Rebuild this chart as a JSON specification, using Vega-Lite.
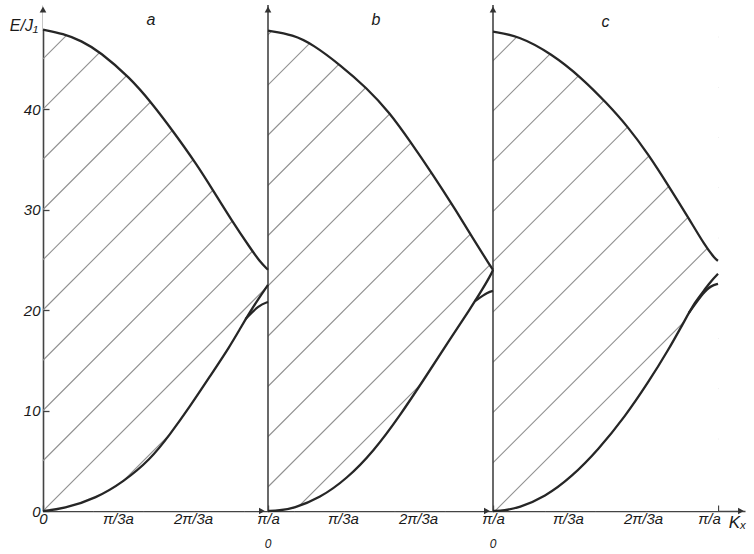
{
 "$schema": "https://vega.github.io/schema/vega-lite/v6.json",
 "width": 702,
 "height": 506,
 "autosize": {"type": "none"},
 "padding": {"left": 43, "top": 5, "right": 9, "bottom": 43},
 "background": "white",
 "config": {
  "view": {"stroke": null},
  "axis": {"domainColor": "#444", "domainWidth": 1.6, "tickColor": "#444", "tickWidth": 1.3, "labelFont": "Liberation Sans", "labelFontStyle": "italic", "labelFontSize": 15, "labelColor": "#1a1a1a", "grid": false, "zindex": 1}
 },
 "datasets": {
  "curves": [
   {"panel": "a", "branch": "up", "k": 0, "e": 47.9},
   {"panel": "a", "branch": "up", "k": 0.09, "e": 47.5},
   {"panel": "a", "branch": "up", "k": 0.17, "e": 46.8},
   {"panel": "a", "branch": "up", "k": 0.253, "e": 45.7},
   {"panel": "a", "branch": "up", "k": 0.387, "e": 43.1},
   {"panel": "a", "branch": "up", "k": 0.483, "e": 40.6},
   {"panel": "a", "branch": "up", "k": 0.578, "e": 37.8},
   {"panel": "a", "branch": "up", "k": 0.683, "e": 34.5},
   {"panel": "a", "branch": "up", "k": 0.756, "e": 31.9},
   {"panel": "a", "branch": "up", "k": 0.839, "e": 28.9},
   {"panel": "a", "branch": "up", "k": 0.92, "e": 26.2},
   {"panel": "a", "branch": "up", "k": 0.964, "e": 24.8},
   {"panel": "a", "branch": "up", "k": 1.0, "e": 24.0},
   {"panel": "a", "branch": "lo", "k": 0, "e": 0},
   {"panel": "a", "branch": "lo", "k": 0.09, "e": 0.2},
   {"panel": "a", "branch": "lo", "k": 0.239, "e": 1.3},
   {"panel": "a", "branch": "lo", "k": 0.357, "e": 2.9},
   {"panel": "a", "branch": "lo", "k": 0.476, "e": 5.1},
   {"panel": "a", "branch": "lo", "k": 0.564, "e": 7.6},
   {"panel": "a", "branch": "lo", "k": 0.653, "e": 10.4},
   {"panel": "a", "branch": "lo", "k": 0.742, "e": 13.4},
   {"panel": "a", "branch": "lo", "k": 0.831, "e": 16.4},
   {"panel": "a", "branch": "lo", "k": 0.88, "e": 18.3},
   {"panel": "a", "branch": "lo", "k": 0.92, "e": 19.8},
   {"panel": "a", "branch": "lo", "k": 0.96, "e": 21.2},
   {"panel": "a", "branch": "lo", "k": 1.0, "e": 22.5},
   {"panel": "a", "branch": "lo2", "k": 0.9, "e": 19.1},
   {"panel": "a", "branch": "lo2", "k": 0.96, "e": 20.5},
   {"panel": "a", "branch": "lo2", "k": 1.0, "e": 20.8},
   {"panel": "b", "branch": "up", "k": 1.0, "e": 47.8},
   {"panel": "b", "branch": "up", "k": 1.112, "e": 47.4},
   {"panel": "b", "branch": "up", "k": 1.201, "e": 46.4},
   {"panel": "b", "branch": "up", "k": 1.32, "e": 44.4},
   {"panel": "b", "branch": "up", "k": 1.439, "e": 42.1},
   {"panel": "b", "branch": "up", "k": 1.542, "e": 39.6},
   {"panel": "b", "branch": "up", "k": 1.631, "e": 36.8},
   {"panel": "b", "branch": "up", "k": 1.735, "e": 33.4},
   {"panel": "b", "branch": "up", "k": 1.824, "e": 30.3},
   {"panel": "b", "branch": "up", "k": 1.912, "e": 27.1},
   {"panel": "b", "branch": "up", "k": 1.987, "e": 24.4},
   {"panel": "b", "branch": "up", "k": 2.0, "e": 24.0},
   {"panel": "b", "branch": "lo", "k": 1.0, "e": 0},
   {"panel": "b", "branch": "lo", "k": 1.05, "e": 0.05},
   {"panel": "b", "branch": "lo", "k": 1.112, "e": 0.25},
   {"panel": "b", "branch": "lo", "k": 1.231, "e": 1.3},
   {"panel": "b", "branch": "lo", "k": 1.35, "e": 3.2},
   {"panel": "b", "branch": "lo", "k": 1.468, "e": 5.9},
   {"panel": "b", "branch": "lo", "k": 1.587, "e": 9.5},
   {"panel": "b", "branch": "lo", "k": 1.705, "e": 13.5},
   {"panel": "b", "branch": "lo", "k": 1.809, "e": 17.1},
   {"panel": "b", "branch": "lo", "k": 1.898, "e": 20.1},
   {"panel": "b", "branch": "lo", "k": 1.957, "e": 22.2},
   {"panel": "b", "branch": "lo", "k": 1.995, "e": 23.7},
   {"panel": "b", "branch": "lo", "k": 2.0, "e": 24.0},
   {"panel": "b", "branch": "lo2", "k": 1.92, "e": 20.9},
   {"panel": "b", "branch": "lo2", "k": 1.979, "e": 21.8},
   {"panel": "b", "branch": "lo2", "k": 2.0, "e": 21.9},
   {"panel": "c", "branch": "up", "k": 2.0, "e": 47.7},
   {"panel": "c", "branch": "up", "k": 2.112, "e": 47.3},
   {"panel": "c", "branch": "up", "k": 2.261, "e": 45.5},
   {"panel": "c", "branch": "up", "k": 2.394, "e": 43.1},
   {"panel": "c", "branch": "up", "k": 2.505, "e": 40.6},
   {"panel": "c", "branch": "up", "k": 2.601, "e": 38.2},
   {"panel": "c", "branch": "up", "k": 2.69, "e": 35.5},
   {"panel": "c", "branch": "up", "k": 2.779, "e": 32.4},
   {"panel": "c", "branch": "up", "k": 2.868, "e": 29.2},
   {"panel": "c", "branch": "up", "k": 2.942, "e": 26.4},
   {"panel": "c", "branch": "up", "k": 2.987, "e": 25.1},
   {"panel": "c", "branch": "up", "k": 3.0, "e": 24.9},
   {"panel": "c", "branch": "lo", "k": 2.0, "e": 0},
   {"panel": "c", "branch": "lo", "k": 2.05, "e": 0.06},
   {"panel": "c", "branch": "lo", "k": 2.112, "e": 0.3},
   {"panel": "c", "branch": "lo", "k": 2.231, "e": 1.4},
   {"panel": "c", "branch": "lo", "k": 2.35, "e": 3.4},
   {"panel": "c", "branch": "lo", "k": 2.468, "e": 6.1},
   {"panel": "c", "branch": "lo", "k": 2.587, "e": 9.4},
   {"panel": "c", "branch": "lo", "k": 2.69, "e": 12.8},
   {"panel": "c", "branch": "lo", "k": 2.779, "e": 16.0},
   {"panel": "c", "branch": "lo", "k": 2.853, "e": 19.0},
   {"panel": "c", "branch": "lo", "k": 2.898, "e": 20.8},
   {"panel": "c", "branch": "lo", "k": 2.94, "e": 22.0},
   {"panel": "c", "branch": "lo", "k": 2.97, "e": 22.9},
   {"panel": "c", "branch": "lo", "k": 3.0, "e": 23.6},
   {"panel": "c", "branch": "lo2", "k": 2.87, "e": 19.7},
   {"panel": "c", "branch": "lo2", "k": 2.94, "e": 21.9},
   {"panel": "c", "branch": "lo2", "k": 2.97, "e": 22.4},
   {"panel": "c", "branch": "lo2", "k": 3.0, "e": 22.6}
  ],
  "hatch": [
   {"k1": 0, "e1": 45, "k2": 0.2232, "e2": 50},
   {"k1": 0, "e1": 40, "k2": 0.4464, "e2": 50},
   {"k1": 0, "e1": 35, "k2": 0.6696, "e2": 50},
   {"k1": 0, "e1": 30, "k2": 0.8929, "e2": 50},
   {"k1": 0, "e1": 25, "k2": 1.1161, "e2": 50},
   {"k1": 0, "e1": 20, "k2": 1.3393, "e2": 50},
   {"k1": 0, "e1": 15, "k2": 1.5625, "e2": 50},
   {"k1": 0, "e1": 10, "k2": 1.7857, "e2": 50},
   {"k1": 0, "e1": 5, "k2": 2.0089, "e2": 50},
   {"k1": 0, "e1": 0, "k2": 2.2321, "e2": 50},
   {"k1": 0.2232, "e1": 0, "k2": 2.4554, "e2": 50},
   {"k1": 0.4464, "e1": 0, "k2": 2.6786, "e2": 50},
   {"k1": 0.6696, "e1": 0, "k2": 2.9018, "e2": 50},
   {"k1": 0.8929, "e1": 0, "k2": 3.0, "e2": 47.2},
   {"k1": 1.1161, "e1": 0, "k2": 3.0, "e2": 42.2},
   {"k1": 1.3393, "e1": 0, "k2": 3.0, "e2": 37.2},
   {"k1": 1.5625, "e1": 0, "k2": 3.0, "e2": 32.2},
   {"k1": 1.7857, "e1": 0, "k2": 3.0, "e2": 27.2},
   {"k1": 2.0089, "e1": 0, "k2": 3.0, "e2": 22.2},
   {"k1": 2.2321, "e1": 0, "k2": 3.0, "e2": 17.2},
   {"k1": 2.4554, "e1": 0, "k2": 3.0, "e2": 12.2},
   {"k1": 2.6786, "e1": 0, "k2": 3.0, "e2": 7.2}
  ]
 },
 "layer": [
  {
   "data": {"name": "hatch"},
   "mark": {"type": "rule", "color": "#909090", "strokeWidth": 1.1},
   "encoding": {
    "x": {"field": "k1", "type": "quantitative", "title": null, "scale": {"domain": [0, 3.12], "nice": false, "zero": false},
     "axis": {"values": [0, 0.333333, 0.666667, 1, 1.333333, 1.666667, 2, 2.333333, 2.666667, 3],
      "labelExpr": "['0','π/3a','2π/3a','π/a','π/3a','2π/3a','π/a','π/3a','2π/3a','π/a'][round(datum.value*3)]",
      "labelOffset": {"condition": {"test": "datum.value > 2.9", "value": -9}, "value": 0},
      "tickSize": -6, "labelPadding": 6, "labelFlush": false, "labelOverlap": false}},
    "y": {"field": "e1", "type": "quantitative", "title": null, "scale": {"domain": [0, 50.35], "nice": false},
     "axis": {"values": [0, 10, 20, 30, 40], "tickSize": -6, "labelPadding": 9}},
    "x2": {"field": "k2"},
    "y2": {"field": "e2"}
   }
  },
  {
   "data": {"name": "curves"},
   "transform": [{"filter": "datum.branch == 'up'"}],
   "mark": {"type": "area", "color": "white", "interpolate": "basis"},
   "encoding": {
    "x": {"field": "k", "type": "quantitative", "title": null},
    "y": {"field": "e", "type": "quantitative", "title": null},
    "y2": {"datum": 50.35},
    "detail": {"field": "panel"}
   }
  },
  {
   "data": {"name": "curves"},
   "transform": [{"filter": "datum.branch == 'lo'"}],
   "mark": {"type": "area", "color": "white", "interpolate": "basis"},
   "encoding": {
    "x": {"field": "k", "type": "quantitative", "title": null},
    "y": {"field": "e", "type": "quantitative", "title": null},
    "y2": {"datum": 0},
    "detail": {"field": "panel"}
   }
  },
  {
   "data": {"values": [{"k": 1}, {"k": 2}]},
   "mark": {"type": "rule", "color": "#444", "strokeWidth": 1.6},
   "encoding": {
    "x": {"field": "k", "type": "quantitative", "title": null},
    "y": {"datum": 0},
    "y2": {"datum": 50.35}
   }
  },
  {
   "data": {"name": "curves"},
   "mark": {"type": "line", "strokeWidth": 2.3, "interpolate": "basis"},
   "encoding": {
    "x": {"field": "k", "type": "quantitative", "title": null},
    "y": {"field": "e", "type": "quantitative", "title": null},
    "detail": {"field": "branch"},
    "color": {"field": "panel", "type": "nominal", "legend": null, "scale": {"range": ["#262626", "#262626", "#262626"]}}
   }
  },
  {
   "data": {"values": [{"k": 0, "e": 49.9}, {"k": 1, "e": 49.9}, {"k": 2, "e": 49.9}]},
   "mark": {"type": "point", "shape": "triangle-up", "filled": true, "color": "#333", "size": 45, "opacity": 1},
   "encoding": {
    "x": {"field": "k", "type": "quantitative", "title": null},
    "y": {"field": "e", "type": "quantitative", "title": null}
   }
  },
  {
   "data": {"values": [{"k": 0.973, "e": 0}, {"k": 1.973, "e": 0}, {"k": 3.102, "e": 0}]},
   "mark": {"type": "point", "shape": "triangle-right", "filled": true, "color": "#333", "size": 45, "opacity": 1},
   "encoding": {
    "x": {"field": "k", "type": "quantitative", "title": null},
    "y": {"field": "e", "type": "quantitative", "title": null}
   }
  },
  {
   "data": {"values": [{"k": 0.48, "e": 48.9, "t": "a"}, {"k": 1.48, "e": 48.9, "t": "b"}, {"k": 2.5, "e": 48.7, "t": "c"}, {"k": -0.085, "e": 48.3, "t": "E/J₁"}]},
   "mark": {"type": "text", "font": "Liberation Sans", "fontStyle": "italic", "fontSize": 16, "color": "#1a1a1a"},
   "encoding": {
    "x": {"field": "k", "type": "quantitative", "title": null},
    "y": {"field": "e", "type": "quantitative", "title": null},
    "text": {"field": "t"}
   }
  },
  {
   "data": {"values": [{"k": 1, "e": -2.8, "t": "0"}, {"k": 2, "e": -2.8, "t": "0"}]},
   "mark": {"type": "text", "font": "Liberation Sans", "fontStyle": "italic", "fontSize": 12, "color": "#1a1a1a", "baseline": "top"},
   "encoding": {
    "x": {"field": "k", "type": "quantitative", "title": null},
    "y": {"field": "e", "type": "quantitative", "title": null},
    "text": {"field": "t"}
   }
  },
  {
   "data": {"values": [{"k": 3.087, "e": -1.2, "t": "Kₓ"}]},
   "mark": {"type": "text", "font": "Liberation Sans", "fontStyle": "italic", "fontSize": 17, "color": "#1a1a1a"},
   "encoding": {
    "x": {"field": "k", "type": "quantitative", "title": null},
    "y": {"field": "e", "type": "quantitative", "title": null},
    "text": {"field": "t"}
   }
  }
 ]
}
